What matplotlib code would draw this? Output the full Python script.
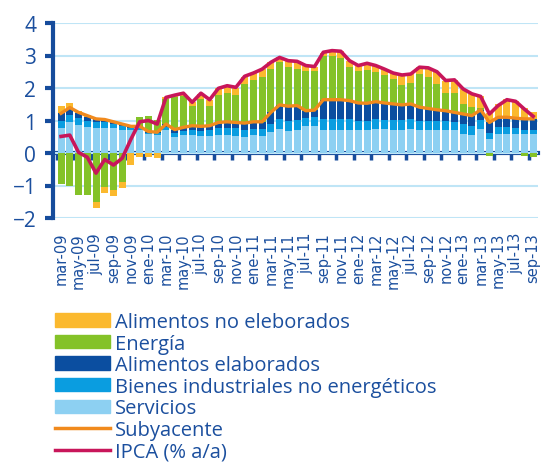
import numpy as np
import matplotlib
matplotlib.use("Agg")
import matplotlib.pyplot as plt
from matplotlib.patches import Patch
from matplotlib.lines import Line2D

plt.rcParams['font.family'] = ['Open Sans', 'DejaVu Sans']

# contributions to HICP, pp (mar-09 .. sep-13)
servicios = [0.78, 0.95, 0.85, 0.80, 0.78, 0.78, 0.76, 0.72, 0.70, 0.72, 0.58, 0.56,
             0.70, 0.50, 0.55, 0.55, 0.52, 0.52, 0.55, 0.55, 0.52, 0.48, 0.55, 0.52,
             0.64, 0.74, 0.69, 0.72, 0.82, 0.82, 0.72, 0.72, 0.72, 0.72, 0.70, 0.70,
             0.74, 0.73, 0.72, 0.72, 0.74, 0.72, 0.72, 0.72, 0.72, 0.70, 0.60, 0.55,
             0.74, 0.43, 0.60, 0.60, 0.58, 0.58, 0.58]
bienes_ind = [0.22, 0.22, 0.22, 0.20, 0.17, 0.16, 0.14, 0.12, 0.08, 0.07, 0.05, 0.05,
              0.10, 0.12, 0.13, 0.16, 0.17, 0.18, 0.22, 0.23, 0.24, 0.24, 0.20, 0.22,
              0.25, 0.30, 0.30, 0.30, 0.27, 0.28, 0.33, 0.34, 0.34, 0.32, 0.30, 0.30,
              0.32, 0.30, 0.30, 0.30, 0.30, 0.28, 0.27, 0.26, 0.26, 0.25, 0.28, 0.28,
              0.28, 0.20, 0.20, 0.20, 0.19, 0.12, 0.12]
alim_elab = [0.22, 0.18, 0.15, 0.12, 0.10, 0.08, 0.06, 0.05, 0.04, 0.03, 0.03, 0.03,
             0.09, 0.10, 0.11, 0.13, 0.13, 0.14, 0.17, 0.18, 0.18, 0.20, 0.21, 0.22,
             0.36, 0.44, 0.45, 0.44, 0.21, 0.22, 0.59, 0.58, 0.58, 0.57, 0.54, 0.53,
             0.52, 0.51, 0.49, 0.46, 0.47, 0.41, 0.38, 0.35, 0.32, 0.30, 0.32, 0.32,
             0.31, 0.31, 0.30, 0.30, 0.30, 0.35, 0.35]
energia = [-0.95, -1.00, -1.30, -1.30, -1.50, -1.05, -1.15, -0.90, 0.00, 0.30, 0.48, 0.38,
           0.77, 1.00, 0.97, 0.62, 0.85, 0.60, 0.85, 0.90, 0.85, 1.20, 1.30, 1.38,
           1.35, 1.31, 1.20, 1.12, 1.23, 1.21, 1.35, 1.35, 1.27, 1.03, 0.97, 1.03,
           0.90, 0.86, 0.77, 0.61, 0.64, 1.02, 0.96, 0.79, 0.55, 0.60, 0.31, 0.26,
           0.05, -0.08, 0.02, 0.05, 0.03, -0.10, -0.13]
alim_no_elab = [0.24, 0.20, 0.08, 0.05, -0.18, -0.17, -0.17, -0.17, -0.38, -0.13, -0.13, -0.14,
                0.05, 0.05, 0.05, 0.10, 0.15, 0.20, 0.20, 0.20, 0.20, 0.22, 0.20, 0.24,
                0.19, 0.15, 0.20, 0.24, 0.16, 0.13, 0.10, 0.15, 0.22, 0.20, 0.18, 0.20,
                0.21, 0.18, 0.18, 0.31, 0.28, 0.21, 0.29, 0.38, 0.38, 0.40, 0.46, 0.41,
                0.36, 0.30, 0.40, 0.50, 0.50, 0.35, 0.20]
subyacente = [1.22, 1.40, 1.25, 1.15, 1.05, 1.03, 0.96, 0.89, 0.82, 0.82, 0.66, 0.64,
              0.89, 0.72, 0.79, 0.84, 0.82, 0.84, 0.94, 0.96, 0.94, 0.92, 0.96, 0.96,
              1.25, 1.48, 1.44, 1.46, 1.30, 1.32, 1.64, 1.64, 1.64, 1.61, 1.54, 1.53,
              1.58, 1.54, 1.51, 1.48, 1.51, 1.41, 1.37, 1.33, 1.30, 1.25, 1.20, 1.15,
              1.33, 0.94, 1.10, 1.10, 1.07, 1.05, 1.05]
ipca = [0.51, 0.55, 0.02, -0.13, -0.62, -0.20, -0.37, -0.16, 0.43, 0.96, 1.00, 0.89,
        1.71, 1.78, 1.84, 1.56, 1.84, 1.64, 1.99, 2.07, 2.02, 2.36, 2.46, 2.58,
        2.79, 2.94, 2.84, 2.82, 2.69, 2.66, 3.10, 3.15, 3.13, 2.84, 2.69, 2.76,
        2.69, 2.58, 2.46, 2.40, 2.43, 2.64, 2.62, 2.50, 2.23, 2.25, 1.97, 1.82,
        1.74, 1.20, 1.46, 1.64, 1.59, 1.35, 1.13]

tick_labels = ["mar-09", "may-09", "jul-09", "sep-09", "nov-09", "ene-10", "mar-10",
               "may-10", "jul-10", "sep-10", "nov-10", "ene-11", "mar-11", "may-11",
               "jul-11", "sep-11", "nov-11", "ene-12", "mar-12", "may-12", "jul-12",
               "sep-12", "nov-12", "ene-13", "mar-13", "may-13", "jul-13", "sep-13"]

TXT = "#1b4f9e"
AXC = "#164c9c"

series = [
    ("Servicios", servicios, "#8dd0f2"),
    ("Bienes industriales no energéticos", bienes_ind, "#0a9de0"),
    ("Alimentos elaborados", alim_elab, "#0b4ea0"),
    ("Energía", energia, "#84c228"),
    ("Alimentos no eleborados", alim_no_elab, "#fbb92e"),
]

x = np.arange(len(ipca))

fig = plt.figure(figsize=(5.42, 4.64), dpi=100)
ax = fig.add_axes([53 / 542, 1 - 219 / 464, (537.5 - 53) / 542, (219 - 24) / 464])

pos_base = np.zeros(len(x))
neg_base = np.zeros(len(x))
for name, vals, col in series:
    v = np.array(vals)
    bottom = np.where(v >= 0, pos_base, neg_base)
    ax.bar(x, v, bottom=bottom, width=0.8, color=col, edgecolor="none", zorder=2)
    pos_base = pos_base + np.where(v >= 0, v, 0)
    neg_base = neg_base + np.where(v < 0, v, 0)

ax.plot(x, subyacente, color="#f18a1d", lw=2.4, zorder=4)
ax.plot(x, ipca, color="#c8165a", lw=2.6, zorder=5)

ax.set_xlim(-0.92, 54.5)
ax.set_ylim(-2, 4)
ax.set_yticks(range(-2, 5))
ax.grid(axis="y", color="#bfe5f6", lw=1.5, zorder=0)
ax.set_axisbelow(True)

for s in ["top", "right", "bottom"]:
    ax.spines[s].set_visible(False)
ax.spines["left"].set_color(AXC)
ax.spines["left"].set_linewidth(3)
ax.tick_params(axis="y", direction="out", length=6, width=3, color=AXC,
               labelsize=15, labelcolor=TXT, pad=6)

# month labels: DejaVu keeps the rotated labels long but narrow enough not to collide
ax.set_xticks(x[::2])
ax.set_xticklabels(tick_labels, rotation=90, fontsize=10.5, color=TXT,
                   family=["DejaVu Sans"])
ax.tick_params(axis="x", length=0, pad=10)

# zero line with tick marks between months
zero = ax.secondary_xaxis(1 / 3)
zero.spines["bottom"].set_color(AXC)
zero.spines["bottom"].set_linewidth(3)
zero.set_xticks(x[::2] - 0.5)
zero.tick_params(axis="x", direction="out", length=5, width=2.5, color=AXC,
                 labelbottom=False)

handles = [Patch(color=c) for _, _, c in series[::-1]]
handles += [Line2D([], [], color="#f18a1d", lw=2.5), Line2D([], [], color="#c8165a", lw=2.5)]
labels = [n for n, _, _ in series[::-1]] + ["Subyacente", "IPCA (% a/a)"]
fig.legend(handles, labels, loc="upper left", bbox_to_anchor=(55 / 542, 1 - 313 / 464),
           frameon=False, fontsize=14.5, handlelength=2.75, handleheight=0.65,
           labelspacing=0.08, handletextpad=0.22, borderpad=0, borderaxespad=0,
           labelcolor=TXT)

fig.savefig("out.png", dpi=100)
